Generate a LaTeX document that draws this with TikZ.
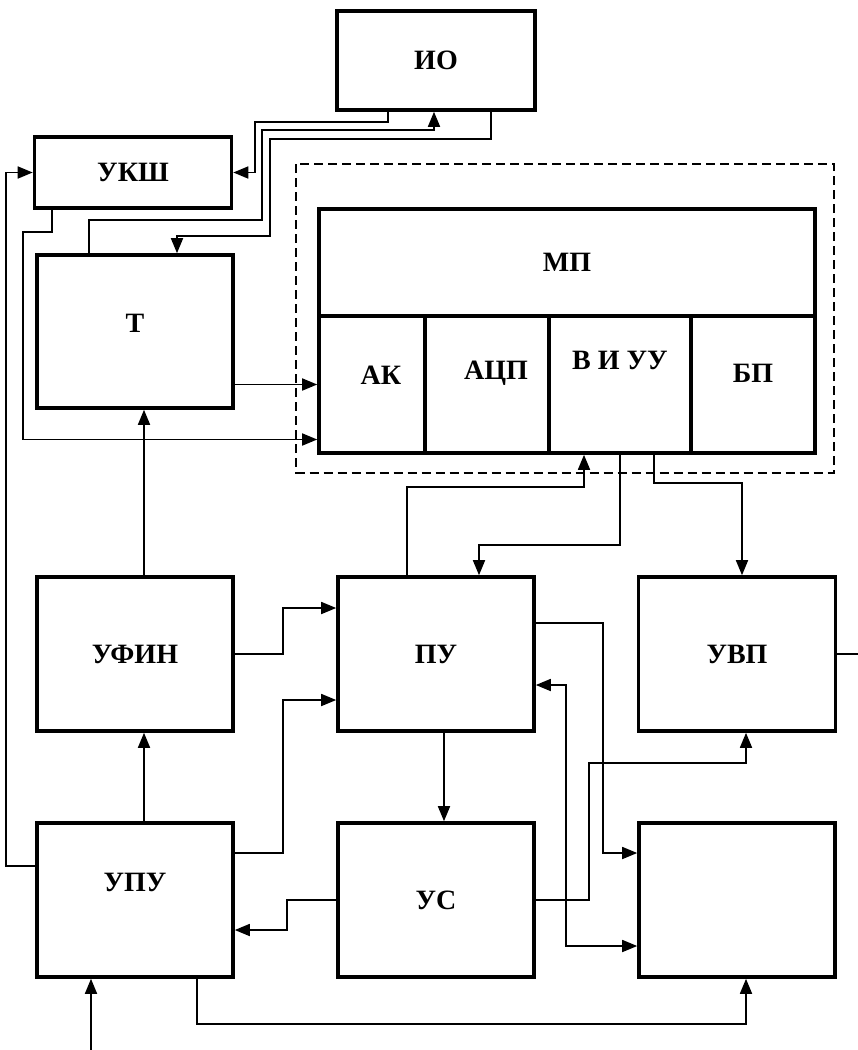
\documentclass[tikz,border=0pt]{standalone}
\usepackage{fontspec}
\setmainfont{Liberation Serif}
\usepackage{tikz}
\usetikzlibrary{arrows.meta,calc}
\tikzset{
  node-box/.style={draw,line width=3.6pt,minimum width=196pt,
    minimum height=154pt,inner sep=0pt,align=center,
    font=\fontsize{28}{32}\selectfont\bfseries},
  node-cell/.style={node-box,minimum width=#1,minimum height=137pt},
  node-text/.style={font=\fontsize{28}{32}\selectfont\bfseries,inner sep=0pt},
  link/.style={line width=1.7pt},
  arrow/.style={-{Triangle[length=15pt,width=12pt]},line width=1.7pt},
  arrow-both/.style={{Triangle[length=15pt,width=12pt]}-{Triangle[length=15pt,width=12pt]},
    line width=1.7pt},
  frame-dash/.style={line width=1.8pt,dash pattern=on 9pt off 5pt},
}
\begin{document}
\begin{tikzpicture}[x=1pt,y=-1pt]
  \useasboundingbox (0,0) rectangle (858,1050);
  % верхние блоки
  \node[node-box,minimum width=198pt,minimum height=99pt] (io) at (436,60.5) {ИО};
  \node[node-box,minimum width=197pt,minimum height=71pt] (uksh) at (133,172.5) {УКШ};
  \node[node-box,minimum height=153pt,
    label={[node-text,yshift=8pt]center:Т}] (t) at (135,331.5) {};
  % МП и его части
  \node[node-box,minimum width=496pt,minimum height=107pt] (mp) at (567,262.5) {МП};
  \node[node-cell=106pt,label={[node-text,xshift=9pt,yshift=9pt]center:АК}]
    (ak) at (372,384.5) {};
  \node[node-cell=124pt,label={[node-text,xshift=9pt,yshift=11pt]center:АЦП}]
    (adc) at (487,384.5) {};
  \node[node-cell=142pt,label={[node-text,yshift=24pt]center:В И УУ}]
    (viu) at (620,384.5) {};
  \node[node-cell=124pt,label={[node-text,yshift=11pt]center:БП}]
    (bp) at (753,384.5) {};
  \draw[frame-dash] ([xshift=-21pt,yshift=43pt]mp.north west)
    rectangle ([xshift=17pt,yshift=-18pt]bp.south east);
  % нижние ряды
  \node[node-box] (ufin) at (135,654) {УФИН};
  \node[node-box] (pu) at (436,654) {ПУ};
  \node[node-box,minimum width=197pt] (uvp) at (737,654) {УВП};
  \node[node-box,label={[node-text,yshift=18pt]center:УПУ}] (upu) at (135,900) {};
  \node[node-box] (us) at (436,900) {УС};
  \node[node-box] (ind) at (737,900) {};
  \coordinate (vhod) at (91,1050);
  \coordinate (vyhod) at (858,654);
  % связи ИО, УКШ, Т
  \draw[arrow] ([xshift=-48pt]io.south) -- ++(0,10) -| ([xshift=22pt]uksh.east)
    -- (uksh.east);
  \draw[arrow] ([xshift=-46pt]t.north) -- (89,220) -| (262,130)
    -| ([xshift=-2pt]io.south);
  \draw[arrow] ([xshift=55pt]io.south) |- (270,139) |- (177,236)
    -- ([xshift=42pt]t.north);
  \draw[arrow] ([xshift=-81pt]uksh.south) |- (23,232) |- ([yshift=-55pt]ak.west);
  \draw[arrow] (t.east |- ak.west) -- (ak.west);
  \draw[arrow] ([xshift=9pt]ufin.north) -- ([xshift=9pt]t.south);
  \draw[arrow] ([xshift=9pt]upu.north) -- ([xshift=9pt]ufin.south);
  \draw[arrow] ([yshift=34pt]upu.west) -- ++(-29,0) |- (uksh.west);
  % связи ПУ
  \draw[arrow] (ufin.east) -| ([xshift=-53pt,yshift=46pt]pu.west)
    -- ([yshift=46pt]pu.west);
  \draw[arrow] ([yshift=47pt]upu.east) -| ([xshift=-53pt,yshift=-46pt]pu.west)
    -- ([yshift=-46pt]pu.west);
  \draw[arrow] ([xshift=-29pt]pu.north) |- ([xshift=-36pt,yshift=-32pt]viu.south)
    -- ([xshift=-36pt]viu.south);
  \draw[arrow] (viu.south) |- ([xshift=43pt,yshift=30pt]pu.north)
    -- ([xshift=43pt]pu.north);
  \draw[arrow] ([xshift=34pt]viu.south) |- ([xshift=5pt,yshift=92pt]uvp.north)
    -- ([xshift=5pt]uvp.north);
  \draw[link] (uvp.east) -- (vyhod);
  \draw[arrow] ([yshift=31pt]pu.east) -| ([xshift=-34pt,yshift=47pt]ind.west)
    -- ([yshift=47pt]ind.west);
  \draw[arrow-both] ([yshift=-31pt]pu.east) -| ([xshift=-71pt,yshift=-46pt]ind.west)
    -- ([yshift=-46pt]ind.west);
  \draw[arrow] ([xshift=8pt]pu.south) -- ([xshift=8pt]us.north);
  % связи УС и УПУ
  \draw[arrow] (us.east) -- ++(53,0) |- ([xshift=9pt,yshift=-30pt]uvp.south)
    -- ([xshift=9pt]uvp.south);
  \draw[arrow] (us.west) -| ([xshift=52pt,yshift=-30pt]upu.east)
    -- ([yshift=-30pt]upu.east);
  \draw[arrow] ([xshift=62pt]upu.south) |- ([xshift=9pt,yshift=-45pt]ind.south)
    -- ([xshift=9pt]ind.south);
  \draw[arrow] (vhod) -- ([xshift=-44pt]upu.south);
\end{tikzpicture}
\end{document}
